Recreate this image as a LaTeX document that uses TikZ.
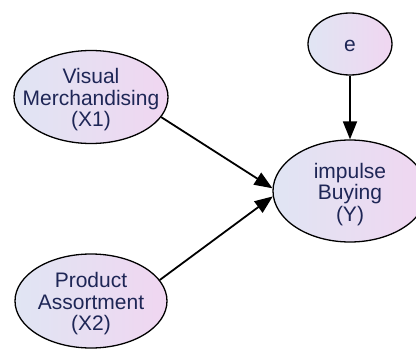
\documentclass[tikz,border=0pt]{standalone}
\usepackage{fontspec}
\setmainfont{Liberation Sans}
\usetikzlibrary{shapes.geometric,arrows.meta}
\definecolor{txtnavy}{RGB}{30,38,86}
\definecolor{fillblue}{RGB}{224,229,243}
\definecolor{fillpink}{RGB}{240,214,241}
\tikzset{
  var/.style={ellipse, draw=black, line width=1.3pt, inner sep=0pt,
    left color=fillblue, right color=fillpink},
  vartext/.style={text=txtnavy, align=center, inner sep=0pt,
    font=\fontsize{21}{21.5}\selectfont},
  path/.style={draw=black, line width=1.8pt,
    -{Triangle[length=18pt,width=14pt]}}
}
\begin{document}
\begin{tikzpicture}[x=1pt,y=-1pt]
  \useasboundingbox (0,0) rectangle (416,351);
  % latent and observed variables
  \node[var, minimum width=84pt, minimum height=62pt] (e) at (350,44) {};
  \node[var, minimum width=154pt, minimum height=102pt] (y) at (350,191) {};
  \node[var, minimum width=154pt, minimum height=93pt] (x1) at (91,97) {};
  \node[var, minimum width=152pt, minimum height=94pt] (x2) at (91,301) {};
  % variable names, set a little below each centre
  \node[vartext] (et) at ([yshift=-2pt]e.center) {e};
  \node[vartext] (yt) at ([yshift=-3.5pt]y.center) {impulse\\Buying\\(Y)};
  \node[vartext] (x1t) at ([yshift=-3pt]x1.center) {Visual\\Merchandising\\(X1)};
  \node[vartext] (x2t) at ([yshift=-3pt]x2.center) {Product\\Assortment\\(X2)};
  % regression paths
  \draw[path] (e.south) -- (y.north);
  \draw[path] (x1.-16.5) -- (y.178);
  \draw[path] (x2.17) -- (y.184.5);
\end{tikzpicture}
\end{document}
